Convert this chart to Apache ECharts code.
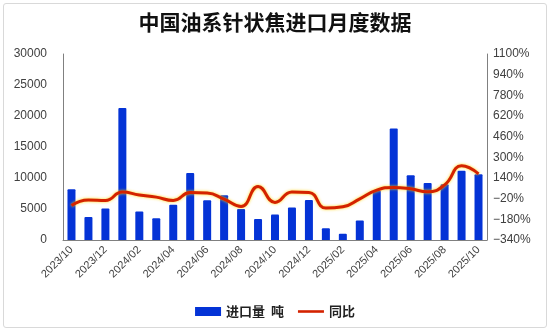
<!DOCTYPE html>
<html><head><meta charset="utf-8">
<script src="https://cdn.jsdelivr.net/npm/echarts@6/dist/echarts.min.js"></script>
<style>
html,body{margin:0;padding:0;background:#fff;}
#frame{position:absolute;left:3px;top:3px;width:542px;height:323px;border:1px solid #d9d9d9;border-radius:3px;}
#c{position:absolute;left:0;top:0;width:550px;height:331px;}
</style></head><body>
<div id="frame"></div>
<div id="c"></div>
<script>
const categories = ['2023/10','2023/11','2023/12','2024/01','2024/02','2024/03','2024/04','2024/05','2024/06','2024/07','2024/08','2024/09','2024/10','2024/11','2024/12','2025/01','2025/02','2025/03','2025/04','2025/05','2025/06','2025/07','2025/08','2025/09','2025/10'];
const importVolume = [8200,3700,5100,21300,4600,3500,5700,10800,6400,7200,5000,3400,4100,5250,6450,1900,1000,3150,8000,18000,10450,9200,9000,11150,10600];
const yoy = [-73,-31,-34,31,8,-8,-34,27,23,-23,-80,74,-49,31,28,-93,-83,-21,46,67,56,33,87,234,172];
const leftTicks = {min:0,max:30000,interval:5000};
const rightTicks = {min:-340,max:1100,interval:160};

const chart = echarts.init(document.getElementById('c'));
const axisFont = {color:'#404040',fontSize:12,fontFamily:'Liberation Sans, Arial, sans-serif'};
chart.setOption({
  animation:false,
  title:{text:'中国油系针状焦进口月度数据',left:'center',top:7,textStyle:{fontSize:21,fontWeight:'bold',color:'#111',fontFamily:'Noto Sans CJK SC'}},
  grid:{left:63,right:63,top:54,bottom:91,containLabel:false},
  legend:{bottom:8,left:'center',itemGap:14,itemWidth:26,itemHeight:9,
    textStyle:{fontSize:13,fontWeight:'bold',color:'#222',fontFamily:'Noto Sans CJK SC'},
    data:[{name:'进口量  吨',icon:'rect'},{name:'同比',icon:'path://M0,0 L30,0 L30,3 L0,3 Z'}]},
  xAxis:{type:'category',data:categories,
    axisLine:{lineStyle:{color:'#808080'}},axisTick:{show:false},
    axisLabel:Object.assign({},axisFont,{fontSize:11,rotate:45,interval:1,margin:8})},
  yAxis:[
    {type:'value',min:leftTicks.min,max:leftTicks.max,interval:leftTicks.interval,
      axisLine:{show:true,lineStyle:{color:'#808080'}},axisTick:{show:false},splitLine:{show:false},
      axisLabel:Object.assign({},axisFont,{margin:16,formatter:v=>String(v)})},
    {type:'value',min:rightTicks.min,max:rightTicks.max,interval:rightTicks.interval,position:'right',
      axisLine:{show:true,lineStyle:{color:'#808080'}},axisTick:{show:false},splitLine:{show:false},
      axisLabel:Object.assign({},axisFont,{margin:6,formatter:v=>String(v).replace('-','−')+'%'})}
  ],
  series:[
    {name:'进口量  吨',type:'bar',data:importVolume,barWidth:8,
      itemStyle:{color:'#0433d6',borderRadius:[1,1,0,0]}},
    {name:'同比',type:'line',yAxisIndex:1,data:yoy,smooth:0.5,symbol:'none',
      lineStyle:{color:'#d42200',width:3,shadowColor:'rgba(255,210,0,0.9)',shadowBlur:3},
      itemStyle:{color:'#d42200'}}
  ]
});
</script>
</body></html>
